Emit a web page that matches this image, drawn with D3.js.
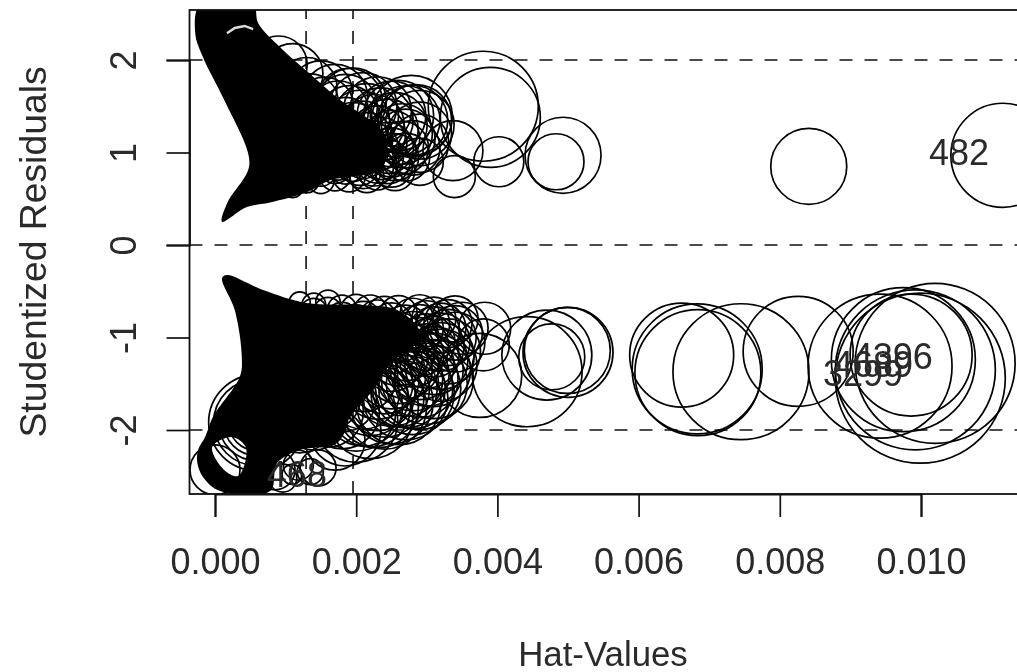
<!DOCTYPE html>
<html><head><meta charset="utf-8">
<script src="https://d3js.org/d3.v7.min.js"></script>
<style>html,body{margin:0;padding:0;background:#fff;overflow:hidden}svg{display:block;filter:blur(.55px)}text{font-family:"Liberation Sans",Arial,sans-serif;fill:#2a2a2a}</style>
</head><body><div id="chart"></div>
<script>
// Parallel arrays: one entry per visible (non-saturated) observation
const hatValues = [
 .0038,.0039,.00402,.00337,.00339,.00493,.00483,.00841,.01116,
 .00382,.0038,.00375,.00442,.0047,.005,.00499,.00477,
 .00661,.00683,.00684,.00745,.00826,.00942,.00992,.00999,.0102,.00986,.00975,
 .0009,.0009,.0011,.0011,
 .0013,.0013,.0013,.0013,.0015,.0015,.0015,.0015,.0017,.0017,.0017,.0017,
 .0019,.0019,.0019,.0019,.0021,.0021,.0021,.0021,.0023,.0023,.0023,.0023,
 .0025,.0025,.0025,.0025,.0027,.0027,.0027,.0029,.0029,.0029,
 .00278,.0029,.0028,.0026,.0028,
 .00135,.00135,.00135,.00155,.00155,.00155,.00175,.00175,.00175,.00185,.00185,.00185,
 .00195,.00195,.00195,.00205,.00205,.00205,.00215,.00215,.00215,.00225,.00225,.00225,
 .00235,.00235,.00235,.00245,.00245,.00245,.00255,.00255,.00255,.00265,.00265,.00285,
 .0012,.0012,.0014,.0014,.0014,.0014,.0016,.0016,.0016,.0016,.0018,.0018,.0018,.0018,
 .002,.002,.002,.002,.0022,.0022,.0022,.0022,.0022,
 .0024,.0024,.0024,.0024,.0024,.0026,.0026,.0026,.0026,.0026,.0026,
 .0028,.0028,.0028,.0028,.0028,.0028,
 .0021,.0021,.0021,.0021,.0023,.0023,.0023,.0023,
 .0025,.0025,.0025,.0025,.0025,.0025,.0027,.0027,.0027,.0027,.0027,.0027,
 .0029,.0029,.0029,.0029,.0029,.0029,.0031,.0031,.0031,.0031,.0031,.0031,
 .003,.003,.003,.003,.003,.0032,.0032,.0032,.0032,.0033,.0033,.0033,.0034,.0034,.0034,.0035,
 .00059,.00059,.00059,.00059,.00059,0,
 .00109,.00135,.00118,.00146,.00096,.00085,.0017,.00184
];
const studentRes = [
 1.5,1.38,.9,1.02,.74,.97,.9,.85,.97,
 -.9,-1.08,-1.41,-1.37,-1.19,-1.16,-1.14,-1.21,
 -1.19,-1.34,-1.38,-1.37,-1.15,-1.31,-1.35,-1.44,-1.28,-1.19,-1.24,
 1.95,.6,1.85,.62,
 1.7,1.4,.7,.8,1.65,1.3,.8,.7,1.6,1.2,.75,.85,
 1.55,1.4,1,.75,1.5,1.25,.95,.8,1.45,1.2,.9,.8,
 1.4,1.15,1,.85,1.35,1.15,.95,1.3,1.1,.9,
 1.39,1.2,1.05,1.4,1.35,
 1.55,1.2,1,1.5,1.1,.95,1.45,1.05,.9,1.5,1.3,.85,
 1.55,1.25,.9,1.35,1.1,.85,1.4,1.15,.75,1.3,1.05,.85,
 1.35,1.1,.95,1.25,1.05,.9,1.3,.95,.8,1.2,1.05,1.35,
 -.62,-1.9,-.65,-.72,-1.85,-1.7,-.62,-.72,-1.8,-1.65,-.7,-.8,-1.8,-1.65,
 -.7,-.85,-1.8,-1.9,-.72,-.9,-1.65,-1.75,-1.85,
 -.75,-.95,-1.65,-1.75,-1.45,-.75,-1,-1.55,-1.7,-1.35,-1.2,
 -.8,-1,-1.2,-1.4,-1.55,-1.6,
 -1.75,-1.6,-1.45,-.8,-1.75,-1.6,-1.5,-.8,
 -1.7,-1.55,-1.4,-1.25,-.85,-1.1,-1.65,-1.45,-1.3,-1.15,-.9,-1.55,
 -1.55,-1.45,-1.3,-1.1,-.9,-.75,-1.35,-1.25,-1.1,-.95,-.8,-1.45,
 -.85,-1.05,-1.2,-1.35,-1.5,-.9,-1.05,-1.2,-1.3,-.85,-1,-1.15,-.8,-.95,-1.05,-.9,
 -1.92,-1.92,-1.92,-1.92,-1.92,-2.43,
 -2.48,-2.45,-2.38,-2.41,-2.52,-2.43,-2.11,-2
];
const cookD = [
 .01255,.01037,.00259,.00373,.00183,.00599,.00325,.00599,.01122,
 .0028,.0028,.00732,.01255,.0084,.0084,.00767,.00452,
 .01122,.01753,.01646,.01918,.01255,.0215,.02655,.02997,.02655,.01544,.0215,
 .0034,.00032,.0038,.00042,
 .0038,.0025,.00064,.00083,.0041,.0025,.00096,.00074,.0044,.0024,.00096,.0012,
 .0046,.0037,.0019,.0011,.0047,.0033,.0019,.0013,.0048,.0033,.0019,.0015,
 .0049,.0033,.0025,.0018,.0049,.0036,.0024,.0049,.0035,.0023,
 .00697,.0042,.0031,.0051,.0051,
 .0032,.0019,.0014,.0035,.0019,.0014,.0037,.0019,.0014,.0042,.0031,.0013,
 .0047,.003,.0016,.0037,.0025,.0015,.0042,.0028,.0012,.0038,.0025,.0016,
 .0043,.0028,.0021,.0038,.0027,.002,.0043,.0023,.0016,.0038,.0029,.0052,
 .00046,.0043,.00059,.00073,.0048,.004,.00062,.00083,.0052,.0044,.00088,.00115,.0058,.0049,
 .00098,.00145,.0065,.0072,.00114,.00178,.006,.0067,.0075,
 .00135,.00217,.0065,.0074,.005,.00146,.0026,.0062,.0075,.0047,.0037,
 .00179,.0028,.004,.0055,.0067,.0072,
 .0064,.0054,.0044,.0013,.007,.0059,.0052,.0015,
 .0072,.006,.0049,.0039,.0018,.003,.0074,.0057,.0046,.0036,.0022,.0065,
 .007,.0061,.0049,.0035,.0023,.0016,.0056,.0048,.0038,.0028,.002,.0065,
 .00217,.0033,.0043,.0055,.0068,.0026,.0035,.0046,.0054,.0024,.0033,.0044,.0022,.0031,.0037,.0028,
 .00325,.00452,.00599,.00767,.00956,.00259,
 .00041,.0007,.00093,.00134,.00081,.00166,.00373,.00537
];
// Outlines of the two regions where overplotted circles saturate to solid black
const coreUpperHat = [-.00021,.00054,.00061,.00092,.00139,.00177,.00224,.00244,.00234,.00195,.00163,.0013,.00078,.00045,.0001,.00017,.00047,.00047,.00011,-.00017,-.00028];
const coreUpperRes = [2.6,2.6,2.4,2.14,1.82,1.57,1.32,1.1,.81,.74,.7,.57,.46,.41,.25,.45,.81,.99,1.6,2.03,2.29];
const coreLowerHat = [.0001,.00017,.00068,.0013,.00205,.00258,.0029,.00252,.00224,.00191,.00173,.0012,.00088,.00078,.00007,-.00017,-.00025,-.00024,-.00014,-.00003,.00035,.00038,.00028];
const coreLowerRes = [-.357,-.324,-.486,-.627,-.649,-.703,-.951,-1.243,-1.568,-1.859,-2.141,-2.216,-2.357,-2.66,-2.66,-2.508,-2.357,-2.216,-2.076,-1.859,-1.427,-1.211,-.703];
const pocketHat = [-.00004,.00024,.00044,.00033,.00013];
const pocketRes = [-2.184,-2.076,-2.195,-2.497,-2.432];
const gapHat = [.00017,.00028,.00042,.00054];
const gapRes = [2.29,2.346,2.368,2.335];

const labelText = ["482","4396","4689","3299","468"];
const labelHat = [.01054,.0096,.00932,.00918,.00116];
const labelRes = [.995,-1.2,-1.297,-1.384,-2.476];

const hatTicks = [0,.002,.004,.006,.008,.01];
const resTicks = [-2,-1,0,1,2];
const hatCutoffs = [.00129,.001955];
const resCutoffs = [-2,0,2];

const W=1017,H=672;
const x=d3.scaleLinear().domain([0,.01]).range([215,921]);
const y=d3.scaleLinear().domain([0,2]).range([245,60]);
const size=d3.scaleSqrt().domain([0,1]).range([0,491]);
const box={l:189.5,t:10,r:1030,b:494};
const svg=d3.select("#chart").append("svg").attr("width",W).attr("height",H);
svg.append("defs").append("clipPath").attr("id","plot").append("rect")
 .attr("x",box.l).attr("y",box.t).attr("width",box.r-box.l).attr("height",box.b-box.t);
const g=svg.append("g").attr("clip-path","url(#plot)");
const ink="#111";

g.selectAll("line.h").data(resCutoffs).join("line").attr("x1",box.l).attr("x2",box.r)
 .attr("y1",d=>y(d)).attr("y2",d=>y(d)).attr("stroke",ink).attr("stroke-width",1.6).attr("stroke-dasharray","13 12");
g.selectAll("line.v").data(hatCutoffs).join("line").attr("y1",box.b).attr("y2",box.t)
 .attr("x1",d=>x(d)).attr("x2",d=>x(d)).attr("stroke",ink).attr("stroke-width",1.6).attr("stroke-dasharray","13 12");

const line=d3.line().x(d=>x(d[0])).y(d=>y(d[1]));
const ringLine=d3.line().x(d=>x(d[0])).y(d=>y(d[1])).curve(d3.curveCatmullRomClosed.alpha(.5));
const ring=(a,b)=>ringLine(d3.zip(a,b));
g.append("path").attr("d",ring(coreUpperHat,coreUpperRes)).attr("fill","#000");
g.append("path").attr("d",ring(coreLowerHat,coreLowerRes)+ring(pocketHat,pocketRes)).attr("fill","#000").attr("fill-rule","evenodd");
g.append("path").attr("d",line(d3.zip(gapHat,gapRes))).attr("fill","none").attr("stroke","#ddd").attr("stroke-width",2.4);

g.selectAll("circle").data(d3.range(hatValues.length)).join("circle")
 .attr("cx",i=>x(hatValues[i])).attr("cy",i=>y(studentRes[i])).attr("r",i=>size(cookD[i]))
 .attr("fill","none").attr("stroke","#000").attr("stroke-width",1.7);

g.selectAll("text").data(labelText).join("text").text(d=>d)
 .attr("x",(d,i)=>x(labelHat[i])).attr("y",(d,i)=>y(labelRes[i])+12.5)
 .attr("text-anchor","middle").attr("font-size",36);

svg.append("rect").attr("x",box.l).attr("y",box.t).attr("width",box.r-box.l).attr("height",box.b-box.t)
 .attr("fill","none").attr("stroke",ink).attr("stroke-width",1.8);

const ax=svg.append("g").attr("transform",`translate(0,${box.b})`)
 .call(d3.axisBottom(x).tickValues(hatTicks).tickSize(23).tickPadding(33).tickFormat(d3.format(".3f")));
ax.select(".domain").attr("stroke",ink).attr("stroke-width",2);
ax.selectAll(".tick line").attr("stroke",ink).attr("stroke-width",1.7);
ax.selectAll("text").attr("font-size",36).attr("fill","#2a2a2a").attr("font-family","Liberation Sans").attr("dy",0).attr("y",80);

const ay=svg.append("g").attr("transform",`translate(${box.l},0)`)
 .call(d3.axisLeft(y).tickValues(resTicks).tickSize(23).tickFormat(d=>String(d)));
ay.select(".domain").attr("stroke",ink).attr("stroke-width",1.8);
ay.selectAll(".tick line").attr("stroke",ink).attr("stroke-width",1.7);
ay.selectAll("text").attr("font-size",36).attr("fill","#2a2a2a").attr("font-family","Liberation Sans")
 .attr("text-anchor","middle").attr("dy",0).attr("x",0).attr("y",0)
 .attr("transform",`translate(${136-box.l},0) rotate(-90)`);

svg.append("text").text("Hat-Values").attr("x",603).attr("y",666).attr("text-anchor","middle").attr("font-size",34.8);
svg.append("text").text("Studentized Residuals").attr("text-anchor","middle").attr("font-size",37.3)
 .attr("transform","translate(46,252) rotate(-90)");
</script></body></html>
